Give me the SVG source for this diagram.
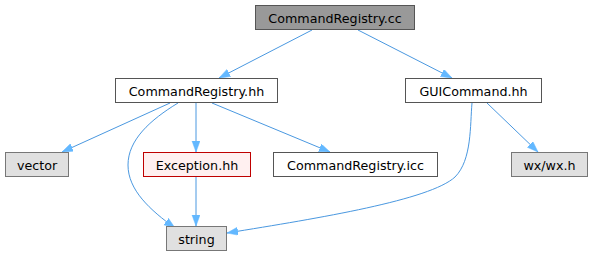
<svg xmlns="http://www.w3.org/2000/svg" width="593" height="256" viewBox="0 0 593 256">
  <style>
    .node rect { stroke-width: 1; }
    .main rect { fill: #999999; stroke: #555555; }
    .doc rect { fill: #ffffff; stroke: #555555; }
    .ext rect { fill: #e0e0e0; stroke: #777777; }
    .undoc rect { fill: #fff0f0; stroke: #bf0000; }
    .node text { font-family: "DejaVu Sans", sans-serif; font-size: 12.7px; fill: #000000; text-anchor: middle; }
    .edge { fill: none; stroke: #4a98e0; stroke-width: 1; marker-end: url(#arrow); }
  </style>
  <defs>
    <marker id="arrow" markerUnits="userSpaceOnUse" markerWidth="13" markerHeight="9" refX="11" refY="4" orient="auto">
      <path d="M0,0 L11,4 L0,8 Z" fill="#63b8ff" stroke="#63b8ff" stroke-width="0.5"/>
    </marker>
  </defs>

  <rect width="593" height="256" fill="#ffffff"/>

  <g id="edges">
    <path class="edge" d="M312,30 L219,78"/>
    <path class="edge" d="M358,30 L452,78"/>
    <path class="edge" d="M170,103 L62,152"/>
    <path class="edge" d="M178,103 C150,120 128,140 128,165 C128,190 150,210 175,228"/>
    <path class="edge" d="M196,103 L196,152"/>
    <path class="edge" d="M212,103 L330,152"/>
    <path class="edge" d="M472,103 C470,125 472,160 455,177 C430,200 320,218 227,233"/>
    <path class="edge" d="M487,103 L538,152"/>
    <path class="edge" d="M196,177 L196,226"/>
  </g>

  <g id="node_cc" class="node main">
    <rect x="255.5" y="5.5" width="159" height="24"/>
    <text x="335" y="22.5">CommandRegistry.cc</text>
  </g>
  <g id="node_hh" class="node doc">
    <rect x="115.5" y="78.5" width="162" height="24"/>
    <text x="196.5" y="95.5">CommandRegistry.hh</text>
  </g>
  <g id="node_gui" class="node doc">
    <rect x="405.5" y="78.5" width="136" height="24"/>
    <text x="473.5" y="95.5">GUICommand.hh</text>
  </g>
  <g id="node_vector" class="node ext">
    <rect x="5.5" y="152.5" width="63" height="24"/>
    <text x="37" y="169.5">vector</text>
  </g>
  <g id="node_exception" class="node undoc">
    <rect x="143.5" y="152.5" width="107" height="24"/>
    <text x="197" y="169.5">Exception.hh</text>
  </g>
  <g id="node_icc" class="node doc">
    <rect x="273.5" y="152.5" width="164" height="24"/>
    <text x="355.5" y="169.5">CommandRegistry.icc</text>
  </g>
  <g id="node_wx" class="node ext">
    <rect x="511.5" y="152.5" width="76" height="24"/>
    <text x="549.5" y="169.5">wx/wx.h</text>
  </g>
  <g id="node_string" class="node ext">
    <rect x="166.5" y="226.5" width="60" height="24"/>
    <text x="196.5" y="243.5">string</text>
  </g>
</svg>
